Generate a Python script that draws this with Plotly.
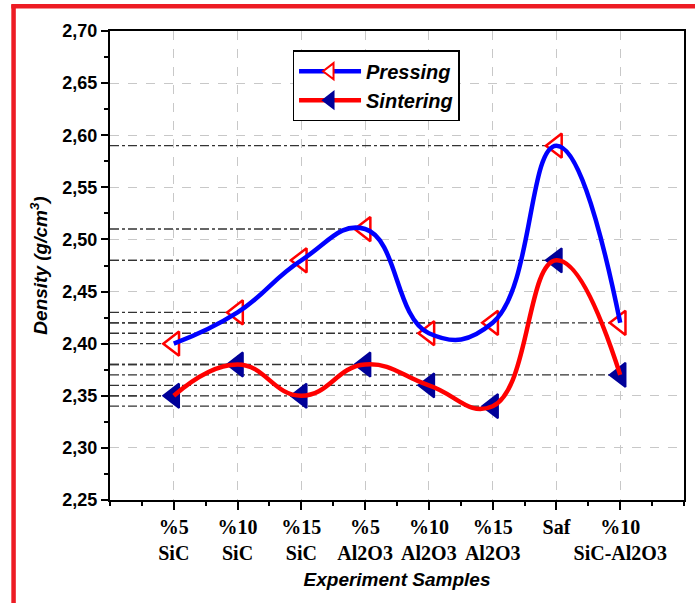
import plotly.graph_objects as go

categories = ["%5<br>SiC", "%10<br>SiC", "%15<br>SiC", "%5<br>Al2O3", "%10<br>Al2O3",
              "%15<br>Al2O3", "Saf", "%10<br>SiC-Al2O3"]
x_pos = [1, 2, 3, 4, 5, 6, 7, 8]
pressing = [2.40, 2.43, 2.48, 2.51, 2.41, 2.42, 2.59, 2.42]
sintering = [2.35, 2.38, 2.35, 2.38, 2.36, 2.34, 2.48, 2.37]

fig = go.Figure()

# horizontal reference lines from y-axis to each point
for series in (pressing, sintering):
    for xv, yv in zip(x_pos, series):
        fig.add_trace(go.Scatter(x=[0, xv], y=[yv, yv], mode="lines",
                                 line=dict(color="#333333", width=1.3, dash="dashdot"),
                                 showlegend=False, hoverinfo="skip"))

# markers
fig.add_trace(go.Scatter(x=x_pos, y=pressing, mode="markers", showlegend=False,
                         marker=dict(symbol="triangle-left", size=21, color="white",
                                     line=dict(color="#FF0000", width=2.5))))
fig.add_trace(go.Scatter(x=x_pos, y=sintering, mode="markers", showlegend=False,
                         marker=dict(symbol="triangle-left", size=21, color="#000099",
                                     line=dict(color="#000099", width=2))))
# smooth lines on top
fig.add_trace(go.Scatter(x=x_pos, y=pressing, mode="lines", showlegend=False,
                         line=dict(color="#0000FF", width=4.5, shape="spline", smoothing=1.3)))
fig.add_trace(go.Scatter(x=x_pos, y=sintering, mode="lines", showlegend=False,
                         line=dict(color="#FF0000", width=4.5, shape="spline", smoothing=1.3)))

# legend entries
fig.add_trace(go.Scatter(x=[None], y=[None], mode="lines+markers", name="Pressing",
                         line=dict(color="#0000FF", width=4.5),
                         marker=dict(symbol="triangle-left", size=14, color="white",
                                     line=dict(color="#FF0000", width=2))))
fig.add_trace(go.Scatter(x=[None], y=[None], mode="lines+markers", name="Sintering",
                         line=dict(color="#FF0000", width=4.5),
                         marker=dict(symbol="triangle-left", size=14, color="#000099",
                                     line=dict(color="#000099", width=2))))

red = "#ED1C24"
fig.update_layout(
    width=695, height=603,
    margin=dict(l=110, r=9, t=31, b=103),
    paper_bgcolor="white", plot_bgcolor="white",
    separators=",.",
    font=dict(family="Arial, Liberation Sans", color="black"),
    legend=dict(x=0.318, y=0.959, xanchor="left", yanchor="top",
                bordercolor="black", borderwidth=1.5, bgcolor="white",
                font=dict(size=20, family="Arial, Liberation Sans", weight="bold", style="italic"),
                itemwidth=62, tracegroupgap=0),
    shapes=[
        dict(type="line", xref="paper", yref="paper", x0=-0.168, x1=-0.168, y0=-0.25, y1=1.056,
             line=dict(color=red, width=4.5)),
        dict(type="line", xref="paper", yref="paper", x0=-0.172, x1=1.02, y0=1.053, y1=1.053,
             line=dict(color=red, width=4.5)),
    ],
)

fig.update_xaxes(
    range=[0, 9], tickvals=x_pos, ticktext=categories,
    tickfont=dict(family="Times New Roman, Liberation Serif", size=20, weight="bold"),
    ticks="outside", ticklen=8, tickwidth=2, tickcolor="black",
    minor=dict(ticks="outside", ticklen=4, tickwidth=2, dtick=0.5, tick0=0, tickcolor="black"),
    showline=True, linecolor="black", linewidth=2, mirror=True,
    showgrid=True, gridcolor="#c8c8c8", griddash="dash", gridwidth=1,
    zeroline=False,
    title=dict(text="Experiment Samples", standoff=10,
               font=dict(size=19, weight="bold", style="italic", family="Arial, Liberation Sans")),
)
fig.update_yaxes(
    range=[2.25, 2.70], dtick=0.05, tick0=2.25, tickformat=".2f",
    tickfont=dict(size=18, weight="bold", family="Arial, Liberation Sans"),
    ticks="outside", ticklen=7, tickwidth=2, tickcolor="black",
    minor=dict(ticks="outside", ticklen=4, tickwidth=2, dtick=0.025, tick0=2.25, tickcolor="black"),
    showline=True, linecolor="black", linewidth=2, mirror=True,
    showgrid=True, gridcolor="#c8c8c8", griddash="dash", gridwidth=1,
    zeroline=False,
    title=dict(text="Density (g/cm<sup>3</sup>)", standoff=10,
               font=dict(size=19, weight="bold", style="italic", family="Arial, Liberation Sans")),
)

fig.write_html("out.html")
